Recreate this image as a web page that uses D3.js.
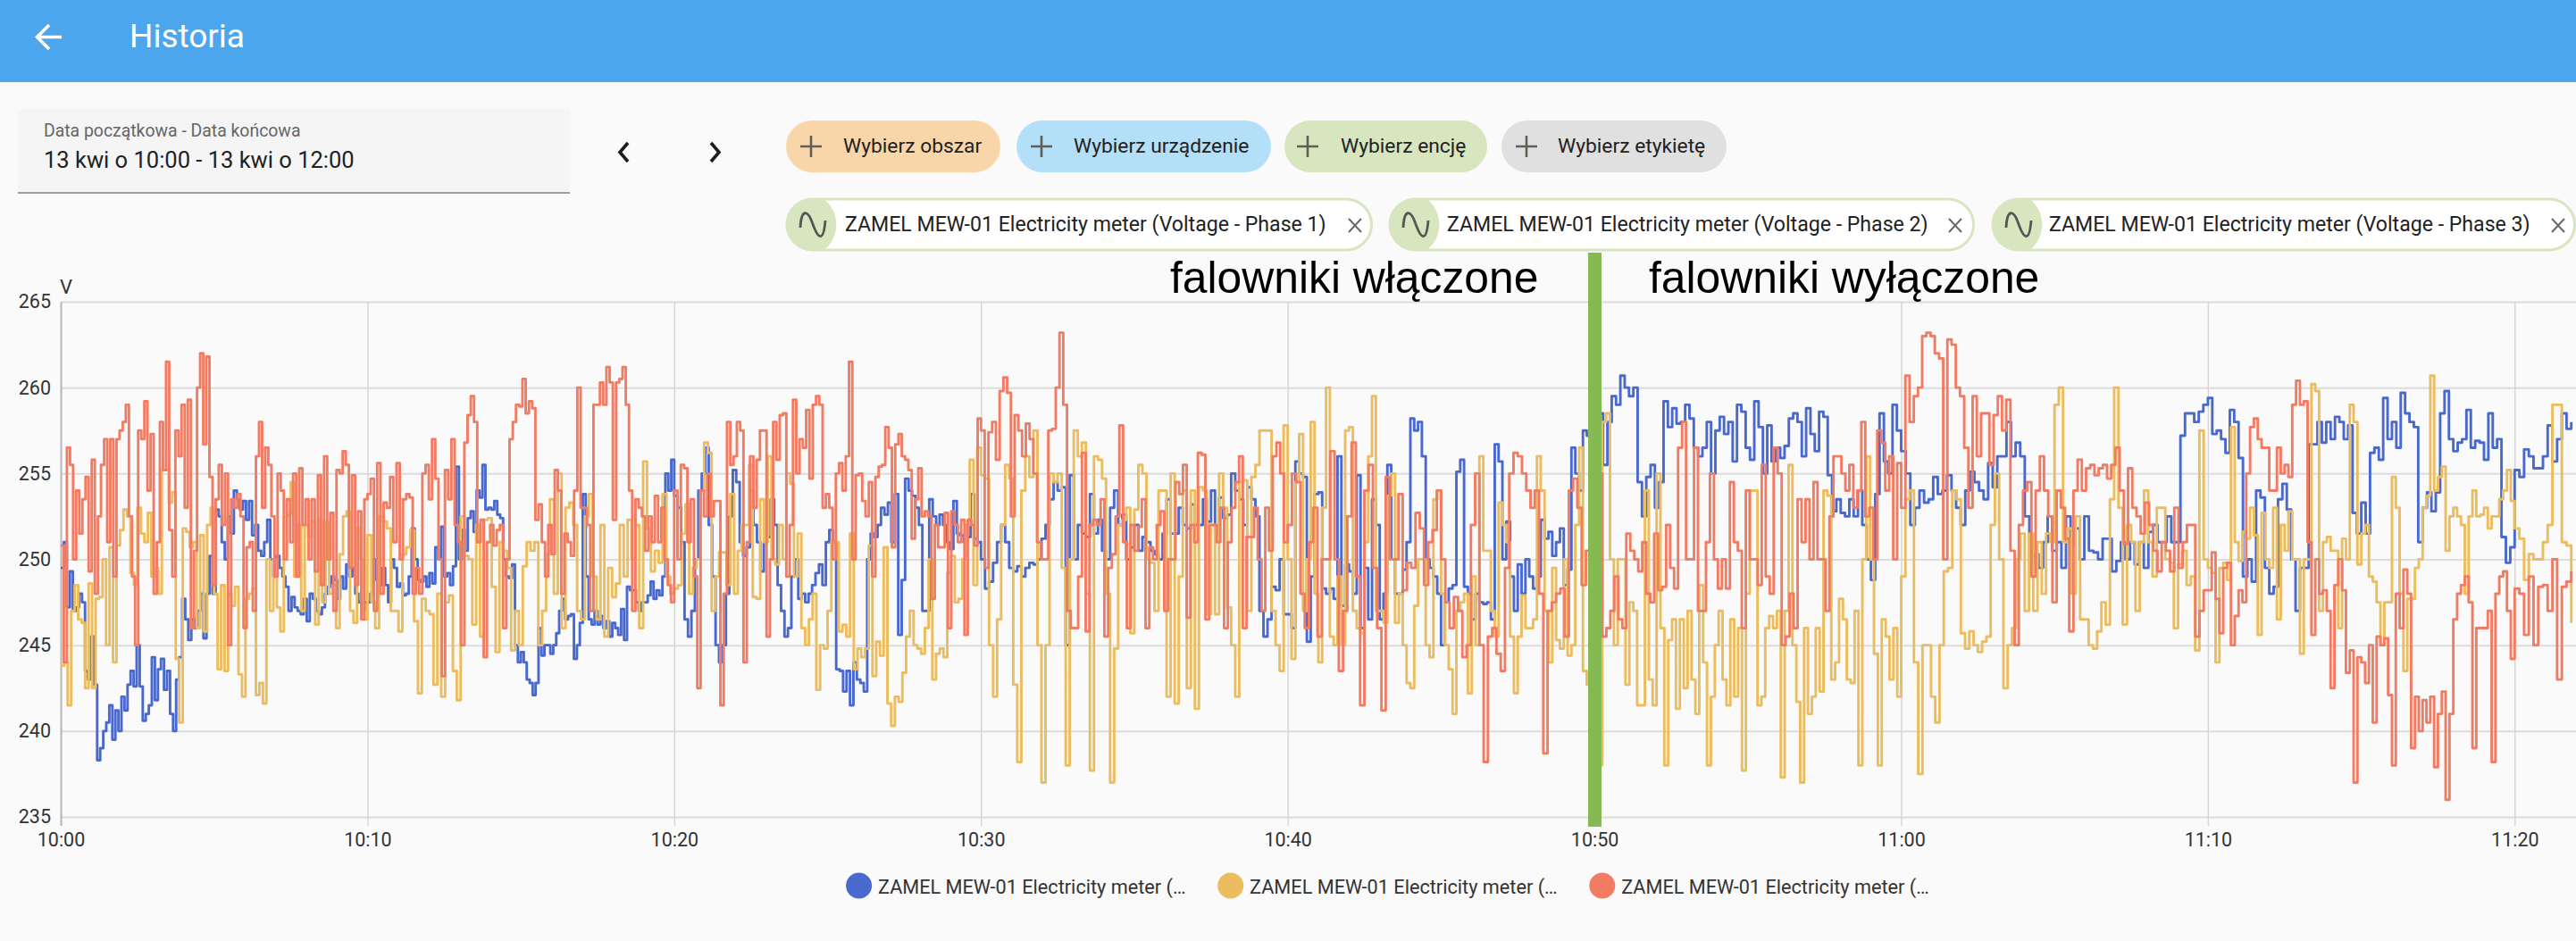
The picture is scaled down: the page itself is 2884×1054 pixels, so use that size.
<!DOCTYPE html>
<html><head><meta charset="utf-8">
<script src="https://cdn.jsdelivr.net/npm/d3@7"></script>
<style>
html,body{margin:0;padding:0;background:#fafafa;overflow:hidden}
svg{display:block}
text{font-family:Roboto,sans-serif}
</style></head><body><svg id="c" width="2884" height="1054"></svg>
<script>
const xTickLabels=["10:00","10:10","10:20","10:30","10:40","10:50","11:00","11:10","11:20"];
const yTicks=[235,240,245,250,255,260,265];
const legendLabels=["ZAMEL MEW-01 Electricity meter (…","ZAMEL MEW-01 Electricity meter (…","ZAMEL MEW-01 Electricity meter (…"];
const blockMinutes=[10,10,10,10,10,10,10,10,2];

const phase1=[
[249.5,251,247.2,249.3,247,247.2,248,247.5,243.5,243,245.5,242.7,238.3,239,240,240.5,241.5,239.5,241.2,240,242,241.2,242.7,243.5,242.6,245,242.6,240.6,241,241.5,244.3,241.8,243.6,244.2,242.4,243.5,241,240,243,244.3,247.7,246.5,245.3,246.5,246,247,248,245.4,248,250.2,248,252.9,252.5,251,250,252.5,251.5,254,253.5,252.9,253.4,252.3,253.4,251.4,252,250.5,250.2,251,252.3,250,249,250.2,249.5,249,248.4,247,247.8,247.2,247,246.8,247.7,246.4,248,247.7,247,246.8,247.2,248,248.4,249,248.8,247.7,249,248.3,249.7,249,249.5,248,247.5,247,247.5],
[247.5,248,250,248.8,248.5,249.5,248.5,247.5,250,249.5,248.4,248.6,247.9,248,249,251.8,250,248.8,248.7,249,248.4,249.2,248.6,250.7,250,251.9,249,249.2,248.5,249.6,255.4,250,251.7,250.5,252.4,252.8,251.6,254,253.6,255.5,252.9,253,252.9,253.4,252.6,252.4,250,249,248.9,249.7,245,244,244.6,244,243,242.8,242.1,242.8,246,244.4,245,245,244.5,245,245.7,247,247.7,246.5,246.7,246.8,244.2,245,246.3,253.8,249,246.5,246.2,247,246.2,246.7,246,246.4,245.5,246.3,246,245.6,247.1,245.3,248.4,248.2,248.2,247.5,247,247.5,247.5,247.9,248.7,247.7,248.2,247.9,249,255,254,255.8],
[253.7,253,251,246.5,245.5,247,250,254,255,256.5,252,249,245,244,245,248,252.5,255.2,254.5,251,250.2,250.7,254,252,251,249.3,251,251.3,253.5,252,248.5,247,245.5,246,249,250,247.7,248,247.5,248,248.5,249.2,249.7,248.5,251,251.7,251,243.6,243.5,242.3,243.5,241.5,244,243,242.8,242.3,250,251.5,251.3,252,253,252.6,253.3,251,253.8,245.6,248.8,254.7,254,253.7,253,252,247,247,253.5,252.5,252,252.6,252,251,250.6,253.4,251.5,251.4,251,251.3,253.8,251.2,251],
[250,248.3,248.7,249.8,251,252,251,249.5,249.3,249.6,249,249.5,249.8,249.7,250,251.2,252,253.5,254.5,254,254.2,245,254.9,250,252,251.5,251.3,253.8,251.5,252.3,250.5,250,253,254,252,252.6,250,250.7,252,250.5,251.3,251,250.5,250.3,250,251.5,253.5,251.5,251.5,253,252,251.8,253.2,252,252,253.5,252.2,254,251.5,253.6,252.4,252.6,255,254,253.5,252,254.2,253.5,252.5,247,245.5,246.5,248.4,248.2,250,246.8],
[246.8,246,255.7,255,254.8,245.2,249,253.8,253.9,248.3,248,248.3,247.7,256,247.3,249.7,249.3,248,254.9,246,249.5,246.5,253.5,252,246.5,248,255.5,250,248,248,249.4,251,258.2,257.5,258,256,250,249.5,249,248,245,247.5,248.3,248.5,255.1,255.8,248.4,248,246.5,248,247.5,247.4,247.5,246.5,256.7,255.7,250,252.2,249,247,249.7,248,250,249,248.3,249,252.3,251.2,251.6,250.2,251,251.8,248.5,249.4,256.5,255,254,257.5,257.2,255.3],
[256.2,258.5,255.5,258,259.5,259,260.7,260,259.5,260,254.5,252.5,254.8,255.5,253,254.5,259.2,257.7,258.8,257.9,258,259,258.2,256.5,256,256.5,258,255,257.5,258.3,257.3,258,255.7,259,258.6,256.5,255.8,259.2,257.7,255,257.8,255.7,256.5,255.9,256.6,258.2,258.5,258,256,258.8,257.3,256.3,258.6,258.3,254.9,252.8,253.5,252.7,252.5,253.5,252.5,254,252,250,248.8,253.8,258.5,255.7,255,259,257.5],
[256.3,255,252,253,254,253.3,253.5,254.8,253.8,254,254.9,254,253,252,254,255.1,254.5,254,253.5,255.6,254.2,256,256,258,256,256.8,256,252.5,249.7,250.3,249.5,251,252.5,250.5,251,249.5,252.5,250.9,251.8,250,252.5,250.5,250.4,250,251.2,251.2,249.3,249.9,251,250,251,249.7,251,249.5,251.6,252,251,251,252.5,251,251,257.2,258.5,258.5,258,258.6,259],
[259.4,257.3,257.5,257,256.2,258.7,258,255.9,249,250,248.7,254,253.6,249.5,248,248.4,253.5,254.4,252.9,250,247,249.5,249.5,256.7,256.7,258,256.8,258,257,258.3,258,257,257.8,252.7,251.5,253.3,251.5,256.2,256.5,255.8,259.4,257,258,256.5,259.7,258.5,258,257.7,251,253,253.9,252.8,253.9,258.5,259.8,257,256.3,256.8,257,258.7,256.5,256.9,256.8,255.8,258.5,256.5,257,251.3,249.8,250.7],
[255.2,254.8,256.4,256,255.3,255.3,256,257.8,255.7,257,258.5,257.6,258]
];

const phase2=[
[243.8,244,241.5,247,248.5,246.5,246.3,242.5,248.6,242.5,247.7,247.8,250,245,250.7,244,250.8,251.7,252.9,252.5,249.2,248.5,253,251.5,251,252.7,249,249.5,248,255.2,255.2,253.3,253.9,244.2,240.5,251.8,251.6,250.7,251,246,251.4,245.8,252,253,248,243.6,248.5,243.5,248,247.3,248.4,243.3,242,247.7,248,248.3,242.1,242.8,241.6,250,247,250,247.2,245.8,252.5,252.6,254.5,249,252,247,252,251.3,252.2,246.2,252.3,247.5,252.2,248,248.5,246,250.3,252.5,252.8,247,246.3,251.8,250,246.5],
[251.4,247.5,246,252.5,252.2,251.8,247,247,245.8,250.3,250.7,251.7,246.4,242.2,247.7,247,246.8,242.7,248,242,247.5,247.9,243.5,241.8,252.5,250.2,250,246.2,252,245.5,252.3,252.4,248.4,244.6,251,250.5,249.5,244.7,247,245,249.6,251,250.5,251,245,247,250.3,253.5,248,255,246,253,253.3,252,247,246.5,252.5,253.8,249,246.5,252,245.5,249.5,247.8,248.6,252,249,252.3,250,252,246,255.7,251.8,249.3,250.5,249.8,253.8,249,248],
[248.3,248.5,251.5,253.2,248,249.5,250,254,256.8,256.2,247,249,250.4,250.4,248.5,253.8,248,250.5,252,252,255.5,247.8,247.7,253.5,251,256,250,249.7,252,250,255,254.4,249,251.5,246,245,246.5,248,242.4,245,244.8,247,251,251,245.8,246.2,245.5,251.5,243.6,244.8,244.3,244.8,250.8,243.2,245.2,244.4,250.7,241.6,240.3,242,241.7,243.4,245.5,247,245,244.8,244.5,246,250,243,244.5,244.8,244.3,249.2,250.2,247.5,247.7,250,252,255.8,248.5,256.5],
[254.9,254.7,245,242,246.5,252,255.5,254.7,242.7,238.2,254,256,254.8,257.5,245,237,245,255,254.5,255,249.5,238,250,257.5,256,256.8,248,237.7,256,255.8,254.7,248,237,244.8,252,252.3,253,245.7,252.9,255.5,255,250,249.8,247,254,254,242,255,241.6,249,254,242.5,254,241.3,254.2,254,246.8,252,246.8,255,253,247.2,245,242,254.5,254.6,247,254.8,255.5,257.5,257.5,257.5,247,245,243.5,257.8],
[250,244.2,254.5,257.3,247,250,258,248,244,253,260,245.5,245,249,245,257.5,257.7,247,246,245.7,251,256,259.5,247,247,246.3,253.7,255,246.3,248,245,242.8,242.5,247.3,250,250,245,244.3,253.5,254,248,245,243.6,241,247,247.5,248,242.2,249,245,256,250.5,250.5,247,245.5,253.3,252,251,245.5,242.2,245.5,247.9,246,246,246.5,256,254,247,244,249.5,245.3,244.8,250,244.4,245,252,256.5,243.5,242.7,247.8],
[244,238,258,258.5,250,245,250,250,242.7,247.5,247,241.5,241.5,254,243,241.5,255,246,238,245.3,246.5,241.3,246.5,242.5,247,243,241,248.5,244,238,242,245,247,243,241.5,246.5,242,246,237.7,248,254,254,241.5,242,246,246.7,246,247,237.3,247,255.5,245,241.7,237,246,241,242,246,242.3,254,253.7,243,244,247.7,246.5,243,242.8,247,238,250,256,250,244.5,238,246.5,245.5,243,246,242],
[249,253.5,254,244,237.5,245,245,242,240.5,245,249.3,249.5,254,253.5,245.7,244.8,245.8,245,244.6,245.2,245.5,252,255,250,242.5,245,246,250,251.5,247,251.5,247,251,248,251.5,251,259,260,251,251.8,248,252.5,246.5,246.5,245,244.8,245.8,247.5,246.2,253.5,260,253,246.2,252,251,247,251,254,251,249,253,253,250,249.8,246,249.7,250.5,248.5,249,244.7,257.5,250],
[249.5,249.2,244,249.5,249.8,248.8,257.7,251,249.9,251.6,251.2,253,251.4,245.6,252.7,250,249.5,253,246.5,252,250.5,252.8,250,250,244.5,250,250,260.2,259.8,247,251,251.3,250.5,250.5,246,251.2,250,259,258,249.7,251.5,252,249,248.7,247.5,245,247.5,247.5,254.8,253,248,243.5,247.7,247.7,249.5,250,253,253.7,260.7,254,254.8,255.4,250.5,252.5,253,252.5,252,248,252.5,254,252.5,252.6,253,251.8,252.5,252.5,253.5,254,255.2,253.4],
[251.8,251.2,248.8,250.3,250,250,251,252,259,259,251,250.8,246.3]
];

const phase3=[
[250.8,244,256.5,255.5,250,254,251.5,253.5,254.8,249.3,255.8,248,252.5,255.5,257,251,257,249,257,257.5,258,259,252.5,249,245,257.5,257,259.2,254,257.3,248,251,258,255.2,261.5,251.7,249,257.5,256,259,253,259.3,246,250.5,260,262,256.7,261.8,254.8,248.5,253.5,255.5,252,255,245,253.5,253,253.8,252.5,246,250.7,251,247,256,258,253,256.5,255.5,252.5,249,255,254,250,253.5,251,255,249,255.3,252,253.5,250,253.5,249.3,254.9,248.5,256,250,252.7,247,255.2,255,256.3,255.5,249.5,254.9,248.5,252.8,246.5,253.5],
[253.8,254.7,247,255.6,248,253.3,253,254.8,251,255.6,250,253.5,253.8,253.6,248,249.5,248,255,255.5,253.5,257,254.7,250,243.2,255.2,253.5,257,252,251,245,256.8,258.4,259.5,258,251,252.3,244.3,251,252,250.8,251.7,252,246,250,257,258,259,258.9,260.5,258.5,259.2,258.8,252.3,253.2,251,249,252,250.3,255.2,254,248,251.5,251,250.2,254,260,253,253,252,247,259,259,260.3,259,261.2,260.3,252.3,260.3,260.5,261.2,259,254,247,253.5,253,252.5,250.5,252.5,251,253.7,251,253,250,248.5,247.5],
[254,250,255.5,255.3,251,253.5,249,242.5,254,252.5,255,252.5,253.4,253.4,241.5,248,258,255.5,256,258,257.5,244,251,256,253,255.8,257.5,257.5,245.5,250,258,255.8,258.4,258.5,249,252,259.3,255,257,256.5,258.7,254.7,259,259.5,259,253,253.8,253,250,255,255.6,254,256,261.5,250,254.9,255,253.4,252.5,254.5,249,254.8,255.4,255.5,257.7,256.5,250.7,256.7,257.3,256,255.8,255.2,251.2,253.5,255.3,252.5,252.8,252.5,247.7,252,250.7,250.7,252.7,246,252.8,252,251,252.3,245.6,252.3,252,250.8,258.2],
[257.5,249.5,257.4,258,255.8,259.8,260.6,259.7,252.5,258.4,257.5,256,257.9,257,255,251,250,250,257.5,257.6,260,263.2,259,247,246,246,249,256.2,245.8,252,252.3,252,253.5,245.5,249.5,250.3,252.5,257.8,251,246,252,250.5,251.9,253.5,246,250.7,250,252,252.8,247,250,250,254.5,253.8,255.5,246.6,252,251,256.2,256.1,246.5,252,252,251,253,246,251,253,254.5,256,246,251.3,251.3,253,250,247,253,250.5,256,256.8,255,251],
[252,255,254.5,248,246,251,253,245.5,250,250,256.3,250,243.5,247,252.5,256.8,249,241.5,254,255.5,249.5,246,241.2,254.8,250,250,253.8,248.2,249.8,249.5,252.7,251.8,248.5,251,251.7,254,250,247.5,246,247.8,247,244.3,245,252,255,245,238.2,245.5,246,244.5,243.5,249.5,255,256.2,256,255,254,253,254,248,238.7,247,247.5,248,248.3,245.5,254,254.7,253,248.5,250.5,254],
[253,255,245.5,246,247,249,246.5,246,251.5,250.5,250,249.3,251,248,247.5,251.5,248.2,248.4,252,249.5,248.3,256.5,258,250,250,256.5,247,247,251,255,250,248.3,250,248.3,254.5,251,250.5,246,254,250,250,248.5,255.5,249,248,256.5,255,245,245.5,248,246,253.5,251,253.5,250,254.5,250,250,247,252.5,256,256,255,254,255.5,253,254,258,252.5,253,250,257.5,256.8,254,256,250,255.6],
[253,260.7,258,259.5,260,263,263.2,263,262,261.7,250,262.8,262.5,260,259.5,256.5,253,259.5,256,258.5,258.5,255.5,258.4,259.5,257.5,259.3,250.5,245,252,254,254.5,249,254,256,254,252.5,247.5,254,253,251.2,245.8,254,255.8,254,255.3,255.5,254.9,255.3,255.5,254.7,255.5,256.5,254,250.9,255.3,253,252.5,251.5,253.3,252,250.5,249.3,251,250.5,249.3,253,249.5,251,252,252,245.5,247,248.2],
[248.2,250.4,247.7,245.7,249.5,249.8,245,246.7,248.2,247.5,255,257.7,258.2,257,256.5,256.5,254,254,256.5,255,255.5,254.8,259,260.4,259,259.2,251,245.6,250,248,248.2,247,242.5,248.5,250,248.2,243.4,244.7,237,244.3,244,242.8,245,240.5,245.5,245,245.4,242.1,238,248,246,249.4,248,239,242,240,241.8,240.5,242,237.9,241,242.3,236,241,246.5,248,248.5,249,247.5,239,246,246,246,247,238.2,248,249,249.3,247,244.2],
[248.3,248,245.6,249,245,248.4,248.5,247,250,243,248.4,248.7,249.3]
];

const seriesNames=["Phase 1","Phase 2","Phase 3"];
const seriesData=[phase1,phase2,phase3];
const seriesColors=["#4a69cf","#ebbd5f","#f27c63"];

const svg=d3.select("#c");
const t0=new Date(2024,3,13,10,0,0);
const x=d3.scaleTime().domain([t0,new Date(2024,3,13,11,22,0)]).range([68,2884]);
const y=d3.scaleLinear().domain([235,265]).range([915,338]);

svg.append("rect").attr("width",2884).attr("height",1054).attr("fill","#fafafa");
// header
svg.append("rect").attr("width",2884).attr("height",92).attr("fill","#4ba6ee");
svg.append("path").attr("d","M69 41.5H44M55 28L41.5 41.5L55 55").attr("fill","none").attr("stroke","#fff").attr("stroke-width",3.6);
svg.append("text").attr("x",145).attr("y",53).attr("fill","#fff").attr("font-size",37).text("Historia");
// date field
svg.append("path").attr("d","M20 217V127a6 6 0 0 1 6-6H632a6 6 0 0 1 6 6V217Z").attr("fill","#f5f5f5");
svg.append("rect").attr("x",20).attr("y",215).attr("width",618).attr("height",2).attr("fill","#9e9e9e");
svg.append("text").attr("x",49).attr("y",153).attr("fill","#666").attr("font-size",19.4).text("Data początkowa - Data końcowa");
svg.append("text").attr("x",49).attr("y",188).attr("fill","#222").attr("font-size",25.5).text("13 kwi o 10:00 - 13 kwi o 12:00");
svg.append("path").attr("d","M703 160L694 170.5L703 181").attr("fill","none").attr("stroke","#1c1c1c").attr("stroke-width",3.6);
svg.append("path").attr("d","M796 160L805 170.5L796 181").attr("fill","none").attr("stroke","#1c1c1c").attr("stroke-width",3.6);
// add chips
const addChips=[
 {x0:880,x1:1120,c:"#f9d6aa",p:908,t:944,s:"Wybierz obszar"},
 {x0:1138,x1:1423,c:"#b3dff9",p:1166,t:1202,s:"Wybierz urządzenie"},
 {x0:1438,x1:1665,c:"#d7e6bf",p:1464,t:1501,s:"Wybierz encję"},
 {x0:1681,x1:1933,c:"#e0e0e0",p:1709,t:1744,s:"Wybierz etykietę"}];
addChips.forEach(d=>{
 svg.append("rect").attr("x",d.x0).attr("y",135).attr("width",d.x1-d.x0).attr("height",58).attr("rx",29).attr("fill",d.c);
 svg.append("path").attr("d",`M${d.p-12} 164H${d.p+12}M${d.p} 152V176`).attr("stroke","#5f5f55").attr("stroke-width",2.6).attr("fill","none");
 svg.append("text").attr("x",d.t).attr("y",171).attr("font-size",22.8).attr("fill","#222").text(d.s);
});
const entChips=[
 {x0:880,x1:1537,t:946,c:1517,s:"ZAMEL MEW-01 Electricity meter (Voltage - Phase 1)"},
 {x0:1555,x1:2211,t:1620,c:2189,s:"ZAMEL MEW-01 Electricity meter (Voltage - Phase 2)"},
 {x0:2230,x1:2884,t:2294,c:2864,s:"ZAMEL MEW-01 Electricity meter (Voltage - Phase 3)"}];
entChips.forEach(d=>{
 svg.append("rect").attr("x",d.x0+1.5).attr("y",223).attr("width",d.x1-d.x0-3).attr("height",57).attr("rx",28.5).attr("fill","#fff").attr("stroke","#d7e6bf").attr("stroke-width",3);
 svg.append("path").attr("d",`M${d.x0+29} 222a29.5 29.5 0 0 0 0 59h12a36 36 0 0 0 0 -59Z`).attr("fill","#d7e6bf");
 const c=d.x0+30;
 svg.append("path").attr("d",`M${c-14} 255C${c-13} 234 ${c-6} 234 ${c} 251S${c+12} 272 ${c+14} 247`).attr("fill","none").attr("stroke","#555").attr("stroke-width",2.8);
 svg.append("text").attr("x",d.t).attr("y",259).attr("font-size",23.1).attr("fill","#222").text(d.s);
 svg.append("path").attr("d",`M${d.c-7} 245l14 15m0-15l-14 15`).attr("stroke","#666").attr("stroke-width",2).attr("fill","none");
});

// axes & grid
const gy=svg.append("g").attr("transform","translate(68,0)").call(d3.axisLeft(y).tickValues(yTicks).tickSize(-2816).tickPadding(11));
gy.select(".domain").remove();
gy.selectAll("line").attr("stroke","#dcdcdc").attr("stroke-width",2);
gy.selectAll("text").attr("font-size",21.5).attr("fill","#333").attr("font-family","Roboto");
const tickDates=xTickLabels.map((s)=>{const p=s.split(":");return new Date(2024,3,13,+p[0],+p[1],0);});
const gx=svg.append("g").attr("transform","translate(0,915)").call(d3.axisBottom(x).tickValues(tickDates).tickFormat((d,i)=>xTickLabels[i]).tickSize(0));
gx.select(".domain").remove();
gx.selectAll("line").attr("y1",10).attr("y2",-577).attr("stroke","#d4d4d4").attr("stroke-width",1.4);
gx.selectAll("text").attr("y",33).attr("dy",0).attr("font-size",21.5).attr("fill","#333").attr("font-family","Roboto");
gx.selectAll(".tick").filter((d,i)=>i===0).select("line").attr("stroke","#b5b5b5").attr("stroke-width",2);
svg.append("text").attr("x",67).attr("y",329).attr("font-size",22).attr("fill","#333").text("V");

// lines
const line=d3.line().x(d=>x(d.t)).y(d=>y(d.v)).curve(d3.curveStepAfter);
function flatten(blocks){
 const out=[];let m=0;
 blocks.forEach((b,k)=>{const span=blockMinutes[k];
  b.forEach((v,i)=>out.push({t:new Date(+t0+(m+span*i/b.length)*60000),v}));
  m+=span;});
 return out;
}
seriesData.forEach((s,i)=>{
 svg.append("path").datum(flatten(s)).attr("d",line).attr("fill","none").attr("stroke",seriesColors[i]).attr("stroke-width",2.9).attr("stroke-linejoin","round").attr("data-name",seriesNames[i]);
});

// annotations
svg.append("rect").attr("x",1778).attr("y",283).attr("width",15).attr("height",643).attr("fill","#85b951");
svg.append("text").attr("x",1310).attr("y",328).attr("font-size",49.8).attr("fill","#000").style("font-family","'Liberation Sans',Arial,sans-serif").text("falowniki włączone");
svg.append("text").attr("x",1846).attr("y",328).attr("font-size",49.8).attr("fill","#000").style("font-family","'Liberation Sans',Arial,sans-serif").text("falowniki wyłączone");

// legend
[961.6,1377.7,1793.8].forEach((cx,i)=>{
 svg.append("circle").attr("cx",cx).attr("cy",992).attr("r",14.5).attr("fill",seriesColors[i]);
 svg.append("text").attr("x",cx+21.4).attr("y",1000.5).attr("font-size",21.7).attr("fill","#333").text(legendLabels[i]);
});
</script></body></html>
